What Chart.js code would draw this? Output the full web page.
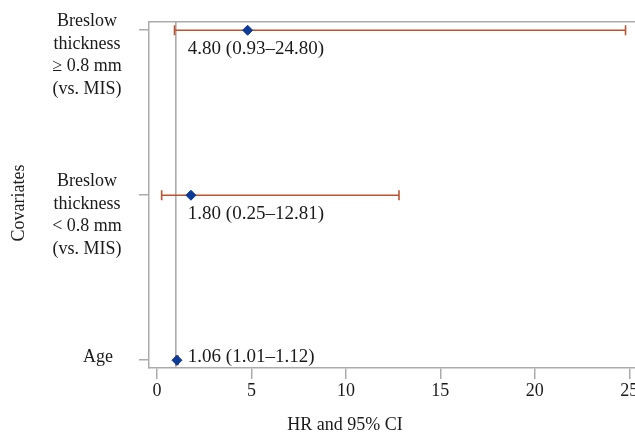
<!DOCTYPE html>
<html>
<head>
<meta charset="utf-8">
<script src="https://cdn.jsdelivr.net/npm/chart.js@4"></script>
<style>
  html, body { margin: 0; background: #fff; overflow: hidden; }
  #wrap { width: 635px; height: 437px; overflow: hidden; }
</style>
</head>
<body>
<div id="wrap"><canvas id="forest" width="645" height="437"></canvas></div>
<script>
// rows from bottom (y = 0) to top
const covariates = [
  ["Age"],
  ["Breslow", "thickness", "< 0.8 mm", "(vs. MIS)"],
  ["Breslow", "thickness", "\u2265 0.8 mm", "(vs. MIS)"]
];
const hr = [1.06, 1.80, 4.80];
const ciLow = [1.01, 0.25, 0.93];
const ciHigh = [1.12, 12.81, 24.80];
const xTicks = [0, 5, 10, 15, 20, 25];
const refValue = 1;

const FONT = '"Liberation Serif", "Times New Roman", serif';
const TEXT = "#1a1a1a";
const AXIS = "#ababab";
const BAR = "#c0532e";
const DOT = "#0c3a96";
// the figure is cropped on the right, so the plot runs past the window edge
const X_MIN = -0.42, X_MAX = 25.83;
const Y_MIN = -0.047, Y_MAX = 2.05;

const fmt = v => v.toFixed(2);

// diamonds first so they sit on top of the bars
const datasets = [{
  type: "scatter",
  data: hr.map((v, i) => ({ x: v, y: i })),
  pointStyle: "rectRot",
  pointRadius: 5,
  backgroundColor: DOT,
  borderColor: DOT,
  borderWidth: 1
}];

hr.forEach((v, i) => {
  datasets.push({
    type: "line",
    data: [{ x: ciLow[i], y: i }, { x: ciHigh[i], y: i }],
    borderColor: BAR,
    borderWidth: 1.6,
    pointStyle: "line",
    pointRotation: 90,
    pointRadius: 5,
    pointBorderColor: BAR,
    pointBorderWidth: 1.6
  });
});

// reference line at HR = 1
datasets.push({
  type: "line",
  data: [{ x: refValue, y: Y_MIN }, { x: refValue, y: Y_MAX }],
  borderColor: "#a5a5a5",
  borderWidth: 1.5,
  pointRadius: 0
});

const textPlugin = {
  id: "forestText",
  afterDraw(chart) {
    const ctx = chart.ctx;
    const xs = chart.scales.x, ys = chart.scales.y;
    const lh = 22.6;
    ctx.save();
    ctx.fillStyle = TEXT;
    ctx.font = "18px " + FONT;
    ctx.textBaseline = "middle";

    // covariate labels
    const blockShift = [-3, 20, 25];
    const centerX = [98, 87, 87];
    ctx.textAlign = "center";
    covariates.forEach((lines, i) => {
      const mid = ys.getPixelForValue(i) + blockShift[i];
      const top = mid - (lines.length - 1) * lh / 2;
      lines.forEach((t, k) => ctx.fillText(t, centerX[i], top + k * lh));
    });

    // axis titles
    ctx.fillText("HR and 95% CI", 345, 425);
    ctx.save();
    ctx.translate(19, 203);
    ctx.rotate(-Math.PI / 2);
    ctx.fillText("Covariates", 0, 0);
    ctx.restore();

    // estimate labels
    ctx.font = "19px " + FONT;
    ctx.textAlign = "left";
    const lx = xs.getPixelForValue(refValue) + 12;
    hr.forEach((v, i) => {
      const y = ys.getPixelForValue(i) + (i === 0 ? -3 : 19);
      ctx.fillText(`${fmt(v)} (${fmt(ciLow[i])}\u2013${fmt(ciHigh[i])})`, lx, y);
    });
    ctx.restore();
  }
};

new Chart(document.getElementById("forest"), {
  type: "scatter",
  data: { datasets },
  plugins: [textPlugin],
  options: {
    responsive: false,
    animation: false,
    layout: { padding: 0, autoPadding: false },
    plugins: { legend: { display: false }, tooltip: { enabled: false } },
    scales: {
      x: {
        type: "linear",
        position: "bottom",
        min: X_MIN,
        max: X_MAX,
        afterBuildTicks: s => { s.ticks = xTicks.map(v => ({ value: v })); },
        afterFit: s => { s.height = 69; s.paddingLeft = 0; s.paddingRight = 0; },
        grid: { drawOnChartArea: false, drawTicks: true, tickLength: 11, color: AXIS, lineWidth: 1.5 },
        border: { color: AXIS, width: 1.5 },
        ticks: { color: TEXT, font: { family: FONT, size: 18 }, padding: 1, maxRotation: 0 }
      },
      x2: {
        type: "linear",
        position: "top",
        min: X_MIN,
        max: X_MAX,
        afterFit: s => { s.height = 22; s.paddingLeft = 0; s.paddingRight = 0; },
        grid: { display: false },
        border: { color: AXIS, width: 1.5 },
        ticks: { display: false }
      },
      y: {
        type: "linear",
        min: Y_MIN,
        max: Y_MAX,
        afterBuildTicks: s => { s.ticks = covariates.map((c, i) => ({ value: i })); },
        afterFit: s => { s.width = 149; s.paddingTop = 0; s.paddingBottom = 0; },
        grid: { drawOnChartArea: false, drawTicks: true, tickLength: 10, color: AXIS, lineWidth: 1.5 },
        border: { color: AXIS, width: 1.5 },
        ticks: { display: false }
      }
    }
  }
});
</script>
</body>
</html>
